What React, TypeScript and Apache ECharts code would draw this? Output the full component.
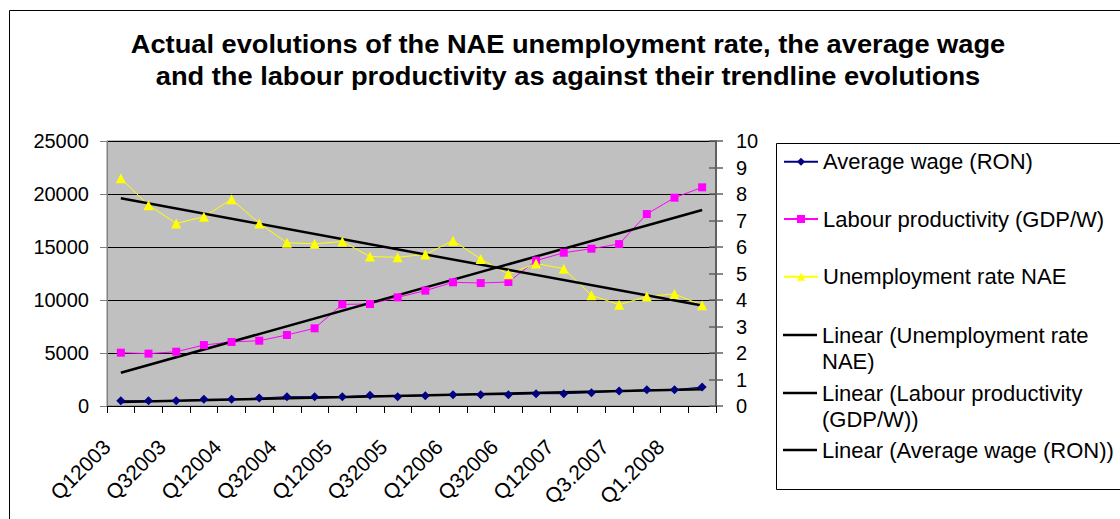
import React, { useEffect, useRef } from 'react';
import * as echarts from 'echarts';

// Quarterly observations, Q1 2003 – Q2 2008
const quarters = [
  'Q12003', 'Q22003', 'Q32003', 'Q42003',
  'Q12004', 'Q22004', 'Q32004', 'Q42004',
  'Q12005', 'Q22005', 'Q32005', 'Q42005',
  'Q12006', 'Q22006', 'Q32006', 'Q42006',
  'Q12007', 'Q2.2007', 'Q3.2007', 'Q4.2007',
  'Q1.2008', 'Q2.2008',
];

const averageWage = [
  500, 500, 500, 630, 630, 750, 880, 880, 880, 1010, 880,
  970, 1070, 1070, 1070, 1160, 1160, 1250, 1410, 1540, 1540, 1790,
];

const labourProductivity = [
  5030, 4940, 5120, 5750, 6040, 6160, 6700, 7330, 9590, 9620, 10250,
  10880, 11670, 11600, 11700, 13710, 14460, 14840, 15280, 18110, 19650, 20630,
];

const unemploymentRate = [
  8.59, 7.58, 6.89, 7.14, 7.8, 6.89, 6.16, 6.12, 6.21, 5.64, 5.61,
  5.72, 6.24, 5.55, 4.97, 5.38, 5.18, 4.18, 3.82, 4.13, 4.23, 3.8,
];

// Linear trendlines: value at the first and at the last quarter
const wageTrend = [380, 1570];
const productivityTrend = [3140, 18490];
const unemploymentTrend = [7.84, 3.79];

const leftAxisRange = { min: 0, max: 25000, interval: 5000 };
const rightAxisRange = { min: 0, max: 10, interval: 1 };

const S_WAGE = 'Average wage (RON)';
const S_PROD = 'Labour productivity (GDP/W)';
const S_UNEMP = 'Unemployment rate NAE';
const T_UNEMP = 'Linear (Unemployment rate NAE)';
const T_PROD = 'Linear (Labour productivity (GDP/W))';
const T_WAGE = 'Linear (Average wage (RON))';

const TITLE_LINES = [
  'Actual evolutions of the NAE unemployment rate, the average wage',
  'and the labour productivity as against their trendline evolutions',
];

const FONT = '"Liberation Sans", Arial, sans-serif';

const trendPoints = (ends: number[]) => [
  [quarters[0], ends[0]],
  [quarters[quarters.length - 1], ends[1]],
];

function legendEntry(name: string, top: number, extra: any = {}) {
  return {
    data: [name],
    orient: 'vertical',
    left: 783,
    top,
    padding: 0,
    itemWidth: 34,
    itemHeight: 10,
    selectedMode: false,
    textStyle: {
      fontFamily: FONT,
      fontSize: 22,
      color: '#000',
      lineHeight: 26,
    },
    ...extra,
  };
}

// Two-line legend labels: a leading blank line keeps the icon level with the first line
const twoLine = (first: string, second: string) => () => ` \n${first}\n${second}`;

export default function App() {
  const ref = useRef<HTMLDivElement>(null);

  useEffect(() => {
    if (!ref.current) return;
    const chart = echarts.init(ref.current, null, { renderer: 'svg' });

    const axisLabelStyle = { fontFamily: FONT, fontSize: 20, color: '#000' };

    chart.setOption({
      animation: false,
      backgroundColor: '#fff',
      grid: {
        left: 107,
        right: 404,
        top: 141,
        bottom: 113,
        show: true,
        backgroundColor: '#c0c0c0',
        borderColor: '#808080',
        borderWidth: 1,
      },
      graphic: [
        {
          type: 'rect',
          shape: { x: 9.5, y: 10.5, width: 1200, height: 600 },
          style: { fill: 'none', stroke: '#000', lineWidth: 1 },
          silent: true,
        },
        {
          type: 'rect',
          shape: { x: 776.5, y: 143.5, width: 400, height: 346 },
          style: { fill: 'none', stroke: '#000', lineWidth: 1 },
          silent: true,
        },
        ...TITLE_LINES.map((line, i) => ({
          type: 'text',
          x: 568,
          y: 44.6 + i * 31.7,
          scaleX: 1.09,
          style: {
            text: line,
            fontFamily: FONT,
            fontSize: 25,
            fontWeight: 'bold',
            fill: '#000',
            textAlign: 'center',
            textVerticalAlign: 'middle',
          },
          silent: true,
        })),
      ],
      legend: [
        legendEntry(S_WAGE, 148.7),
        legendEntry(S_PROD, 206),
        legendEntry(S_UNEMP, 263.7),
        legendEntry(T_UNEMP, 296, {
          icon: 'rect',
          itemHeight: 2.5,
          formatter: twoLine('Linear (Unemployment rate', 'NAE)'),
        }),
        legendEntry(T_PROD, 354, {
          icon: 'rect',
          itemHeight: 2.5,
          formatter: twoLine('Linear (Labour productivity', '(GDP/W))'),
        }),
        legendEntry(T_WAGE, 437, { icon: 'rect', itemHeight: 2.5 }),
      ],
      xAxis: {
        type: 'category',
        data: quarters,
        boundaryGap: true,
        axisLine: { lineStyle: { color: '#000', width: 1 } },
        axisTick: { show: true, interval: 0, length: 7, lineStyle: { color: '#000' } },
        axisLabel: {
          ...axisLabelStyle,
          fontSize: 21,
          interval: 1,
          rotate: 45,
          margin: 23,
          padding: [0, 20, 0, 0],
        },
        splitLine: { show: false },
      },
      yAxis: [
        {
          type: 'value',
          position: 'left',
          ...leftAxisRange,
          axisLine: { show: true, lineStyle: { color: '#808080', width: 1 } },
          axisTick: { show: true, length: 7, lineStyle: { color: '#808080' } },
          axisLabel: { ...axisLabelStyle, margin: 18, formatter: (v: number) => String(v) },
          splitLine: { show: true, lineStyle: { color: '#000', width: 1 } },
        },
        {
          type: 'value',
          position: 'right',
          ...rightAxisRange,
          axisLine: { show: true, lineStyle: { color: '#606060', width: 2 } },
          axisTick: { show: true, length: 7, lineStyle: { color: '#606060', width: 1.5 } },
          axisLabel: { ...axisLabelStyle, margin: 20 },
          splitLine: { show: false },
        },
        {
          // inner half of the crossing ticks on the right-hand axis
          type: 'value',
          position: 'right',
          ...rightAxisRange,
          axisLine: { show: false },
          axisTick: { show: true, inside: true, length: 7, lineStyle: { color: '#606060', width: 1.5 } },
          axisLabel: { show: false },
          splitLine: { show: false },
        },
      ],
      series: [
        {
          name: S_WAGE,
          type: 'line',
          data: averageWage,
          yAxisIndex: 0,
          symbol: 'diamond',
          symbolSize: 9,
          itemStyle: { color: '#000080' },
          lineStyle: { color: '#000080', width: 1 },
        },
        {
          name: S_PROD,
          type: 'line',
          data: labourProductivity,
          yAxisIndex: 0,
          symbol: 'rect',
          symbolSize: 8,
          itemStyle: { color: '#ff00ff' },
          lineStyle: { color: '#ff00ff', width: 1 },
        },
        {
          name: S_UNEMP,
          type: 'line',
          data: unemploymentRate,
          yAxisIndex: 1,
          symbol: 'triangle',
          symbolSize: 10,
          itemStyle: { color: '#ffff00' },
          lineStyle: { color: '#ffff00', width: 1 },
        },
        {
          name: T_UNEMP,
          type: 'line',
          data: trendPoints(unemploymentTrend),
          yAxisIndex: 1,
          symbol: 'none',
          itemStyle: { color: '#000' },
          lineStyle: { color: '#000', width: 2.5 },
        },
        {
          name: T_PROD,
          type: 'line',
          data: trendPoints(productivityTrend),
          yAxisIndex: 0,
          symbol: 'none',
          itemStyle: { color: '#000' },
          lineStyle: { color: '#000', width: 2.5 },
        },
        {
          name: T_WAGE,
          type: 'line',
          data: trendPoints(wageTrend),
          yAxisIndex: 0,
          symbol: 'none',
          itemStyle: { color: '#000' },
          lineStyle: { color: '#000', width: 2.5 },
        },
      ],
    });

    return () => chart.dispose();
  }, []);

  return (
    <div
      ref={ref}
      style={{ position: 'fixed', left: 0, top: 0, width: 1120, height: 519 }}
    />
  );
}
